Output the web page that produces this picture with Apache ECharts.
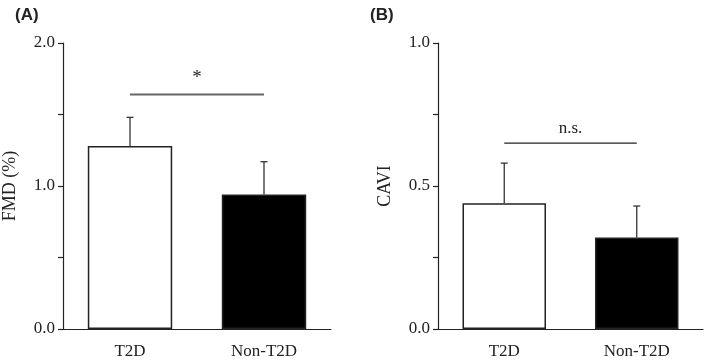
<!DOCTYPE html>
<html>
<head>
<meta charset="utf-8">
<script src="https://cdn.jsdelivr.net/npm/echarts@6/dist/echarts.min.js"></script>
<style>
  html, body { margin: 0; padding: 0; background: #fff; }
  #chart { width: 709px; height: 361px; }
</style>
</head>
<body>
<div id="chart"></div>
<script>
// data
const groups = ['T2D', 'Non-T2D'];
const barColors = ['#ffffff', '#000000'];

const fmdMean = [1.28, 0.94];
const fmdUpper = [1.48, 1.17];
const fmdAxis = [0, 2, 1];        // min, max, interval
const fmdSig = [0, 1, 1.64];      // from, to, height
const fmdSigText = '*';

const caviMean = [0.44, 0.32];
const caviUpper = [0.58, 0.43];
const caviAxis = [0, 1, 0.5];
const caviSig = [0, 1, 0.65];
const caviSigText = 'n.s.';

const ink = '#222';
const serif = '"Liberation Serif", "Times New Roman", serif';
const sans = '"Liberation Sans", Arial, sans-serif';

const chart = echarts.init(document.getElementById('chart'), null, { renderer: 'canvas' });

function xAxisFor(idx) {
  return {
    type: 'category',
    gridIndex: idx,
    data: groups,
    axisLine: { lineStyle: { color: ink, width: 1.2 } },
    axisTick: { show: false },
    axisLabel: { color: ink, fontFamily: serif, fontSize: 17, margin: 14 },
  };
}

function yAxisFor(idx, range, name, gap) {
  return {
    type: 'value',
    gridIndex: idx,
    min: range[0],
    max: range[1],
    interval: range[2],
    name: name,
    nameLocation: 'middle',
    nameGap: gap,
    nameTextStyle: { color: ink, fontFamily: serif, fontSize: 18 },
    axisLine: { show: true, lineStyle: { color: ink, width: 1.2 } },
    axisTick: { show: true, length: 5, lineStyle: { color: ink, width: 1.2 } },
    minorTick: { show: true, splitNumber: 2, length: 5, lineStyle: { color: ink, width: 1.2 } },
    splitLine: { show: false },
    axisLabel: {
      color: ink, fontFamily: serif, fontSize: 17, margin: 8,
      formatter: v => v.toFixed(1),
    },
  };
}

function barSeries(idx, means) {
  return {
    type: 'bar',
    xAxisIndex: idx,
    yAxisIndex: idx,
    barWidth: '63%',
    data: means.map((v, i) => ({
      value: v,
      itemStyle: { color: barColors[i], borderColor: ink, borderWidth: 1.5 },
    })),
    z: 2,
  };
}

function errorSeries(idx, means, uppers) {
  return {
    type: 'custom',
    xAxisIndex: idx,
    yAxisIndex: idx,
    z: 3,
    data: means.map((m, i) => [i, m, uppers[i]]),
    renderItem: (params, api) => {
      const lo = api.coord([api.value(0), api.value(1)]);
      const hi = api.coord([api.value(0), api.value(2)]);
      const style = { stroke: '#333', lineWidth: 1.3 };
      return {
        type: 'group',
        children: [
          { type: 'line', shape: { x1: lo[0], y1: lo[1], x2: hi[0], y2: hi[1] }, style },
          { type: 'line', shape: { x1: hi[0] - 3.5, y1: hi[1], x2: hi[0] + 3.5, y2: hi[1] }, style },
        ],
      };
    },
  };
}

function sigSeries(idx, sig, text, color, width, textGap, size) {
  return {
    type: 'custom',
    xAxisIndex: idx,
    yAxisIndex: idx,
    z: 3,
    data: [sig],
    renderItem: (params, api) => {
      const a = api.coord([api.value(0), api.value(2)]);
      const b = api.coord([api.value(1), api.value(2)]);
      return {
        type: 'group',
        children: [
          { type: 'line', shape: { x1: a[0], y1: a[1], x2: b[0], y2: b[1] },
            style: { stroke: color, lineWidth: width } },
          { type: 'text', x: (a[0] + b[0]) / 2, y: a[1] - textGap,
            style: { text: text, fill: ink, font: size + 'px ' + serif,
                     align: 'center', verticalAlign: 'middle' } },
        ],
      };
    },
  };
}

const option = {
  backgroundColor: '#ffffff',
  animation: false,
  title: [
    { text: '(A)', left: 10, top: 2,
      textStyle: { fontFamily: sans, fontWeight: 'bold', fontSize: 17, color: ink } },
    { text: '(B)', left: 365, top: 2,
      textStyle: { fontFamily: sans, fontWeight: 'bold', fontSize: 17, color: ink } },
  ],
  grid: [
    { left: 63, right: 378, top: 43, bottom: 32 },
    { left: 438, right: 6, top: 43, bottom: 32 },
  ],
  xAxis: [xAxisFor(0), xAxisFor(1)],
  yAxis: [
    yAxisFor(0, fmdAxis, 'FMD (%)', 44),
    yAxisFor(1, caviAxis, 'CAVI', 44),
  ],
  series: [
    barSeries(0, fmdMean),
    errorSeries(0, fmdMean, fmdUpper),
    sigSeries(0, fmdSig, fmdSigText, '#666', 2, 16, 19),
    barSeries(1, caviMean),
    errorSeries(1, caviMean, caviUpper),
    sigSeries(1, caviSig, caviSigText, ink, 1.3, 15, 17),
  ],
};

chart.setOption(option);
window.addEventListener('resize', () => chart.resize());
</script>
</body>
</html>
